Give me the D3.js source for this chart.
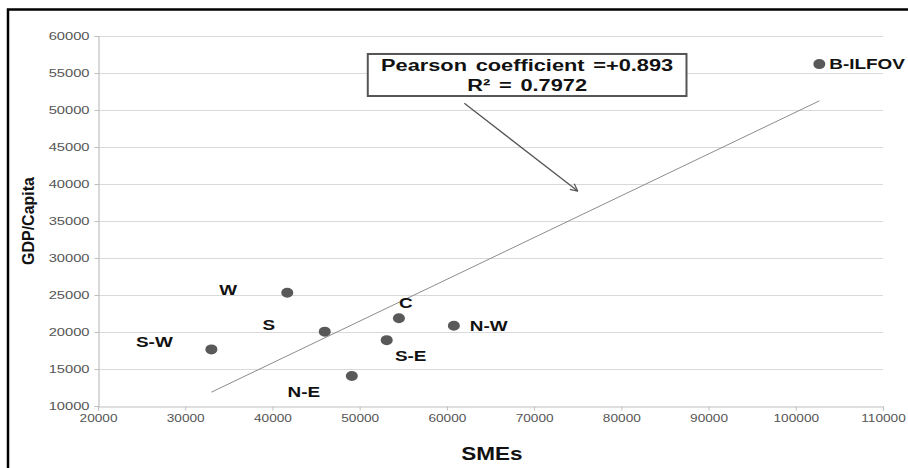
<!DOCTYPE html>
<html>
<head>
<meta charset="utf-8">
<script src="https://cdn.jsdelivr.net/npm/d3@7"></script>
<style>
  body { margin: 0; background: #fff; }
  svg { display: block; }
</style>
</head>
<body>
<svg id="chart"></svg>
<script>
// regions (labels) with SMEs (x) and GDP/capita (y)
const regions = ['W', 'S', 'S-W', 'C', 'N-W', 'S-E', 'N-E', 'B-ILFOV'];
const smes = [41700, 46000, 33000, 54500, 60800, 53100, 49100, 102700];
const gdpCapita = [25300, 20050, 17650, 21850, 20850, 18900, 14050, 56200];

const xTicks = [20000, 30000, 40000, 50000, 60000, 70000, 80000, 90000, 100000, 110000];
const yTicks = [10000, 15000, 20000, 25000, 30000, 35000, 40000, 45000, 50000, 55000, 60000];

const annotationLines = ['Pearson coefficient =+0.893', 'R\u00b2 = 0.7972'];

// label placement around each point (pixels, as in the original)
const labelPos = {
  'W':       { dx: -59, dy: 2,  anchor: 'middle' },
  'S':       { dx: -56, dy: -2, anchor: 'middle' },
  'S-W':     { dx: -57, dy: -2, anchor: 'middle' },
  'C':       { dx: 7,   dy: -10, anchor: 'middle' },
  'N-W':     { dx: 16,  dy: 5,  anchor: 'start' },
  'S-E':     { dx: 24,  dy: 21, anchor: 'middle' },
  'N-E':     { dx: -48, dy: 21, anchor: 'middle' },
  'B-ILFOV': { dx: 10,  dy: 5,  anchor: 'start' }
};

const W = 908, H = 468;
const plot = { left: 98, right: 883, top: 36, bottom: 406 };
const font = '"Liberation Sans", Arial, sans-serif';

// the original picture is stretched sideways, so text is widened the same way
function widen(sel, k) {
  sel.each(function() {
    const len = this.getComputedTextLength();
    d3.select(this)
      .attr('textLength', len * k)
      .attr('lengthAdjust', 'spacingAndGlyphs');
  });
}

const svg = d3.select('#chart').attr('width', W).attr('height', H);

// frame of the original figure (left and top edges visible)
svg.append('path')
  .attr('d', `M8,${H} L8,9.5 L${W},9.5`)
  .attr('fill', 'none')
  .attr('stroke', '#000')
  .attr('stroke-width', 2.5);

const x = d3.scaleLinear().domain([20000, 110000]).range([plot.left, plot.right]);
const y = d3.scaleLinear().domain([10000, 60000]).range([plot.bottom, plot.top]);

// gridlines
svg.append('g')
  .selectAll('line')
  .data(yTicks.slice(1))
  .join('line')
    .attr('x1', plot.left).attr('x2', plot.right)
    .attr('y1', d => y(d) + 0.5).attr('y2', d => y(d) + 0.5)
    .attr('stroke', '#d9d9d9')
    .attr('stroke-width', 1.2);

const xAxis = svg.append('g')
  .attr('transform', `translate(0,${plot.bottom + 0.5})`)
  .call(d3.axisBottom(x).tickValues(xTicks).tickFormat(d3.format('d')).tickSize(4).tickPadding(4));

const yAxis = svg.append('g')
  .attr('transform', `translate(${plot.left + 0.5},0)`)
  .call(d3.axisLeft(y).tickValues(yTicks).tickFormat(d3.format('d')).tickSize(4).tickPadding(5));

[xAxis, yAxis].forEach(a => {
  a.select('.domain').attr('stroke', '#bfbfbf').attr('stroke-width', 1.2);
  a.selectAll('.tick line').attr('stroke', '#bfbfbf');
  a.selectAll('.tick text')
    .attr('fill', '#555')
    .style('font-family', font)
    .style('font-size', '10.5px');
});
widen(xAxis.selectAll('.tick text'), 1.3);
widen(yAxis.selectAll('.tick text'), 1.4);

// trend line, least squares fit of the points
const mx = d3.mean(smes), my = d3.mean(gdpCapita);
const sxy = d3.sum(smes, (v, i) => (v - mx) * (gdpCapita[i] - my));
const sxx = d3.sum(smes, v => (v - mx) * (v - mx));
const slope = sxy / sxx;
const icpt = my - slope * mx;
const xMin = d3.min(smes), xMax = d3.max(smes);

svg.append('line')
  .attr('x1', x(xMin)).attr('y1', y(icpt + slope * xMin))
  .attr('x2', x(xMax)).attr('y2', y(icpt + slope * xMax))
  .attr('stroke', '#8c8c8c')
  .attr('stroke-width', 1);

// points
const pts = regions.map((r, i) => ({ name: r, sx: smes[i], gy: gdpCapita[i] }));

svg.append('g')
  .selectAll('ellipse')
  .data(pts)
  .join('ellipse')
    .attr('cx', d => x(d.sx))
    .attr('cy', d => y(d.gy))
    .attr('rx', 6)
    .attr('ry', 5)
    .attr('fill', '#595959');

const labels = svg.append('g')
  .selectAll('text')
  .data(pts)
  .join('text')
    .attr('x', d => x(d.sx) + labelPos[d.name].dx)
    .attr('y', d => y(d.gy) + labelPos[d.name].dy)
    .attr('text-anchor', d => labelPos[d.name].anchor)
    .style('font-family', font)
    .style('font-weight', 'bold')
    .style('font-size', '14px')
    .attr('fill', '#111')
    .text(d => d.name);
widen(labels, 1.35);

// annotation box and arrow (in data units)
const box = { x0: 50930, x1: 87470, y0: 57570, y1: 51890 };
const arrow = { fromX: 62000, fromY: 50900, toX: 75000, toY: 39050 };

svg.append('defs').append('marker')
  .attr('id', 'head')
  .attr('viewBox', '0 0 10 10')
  .attr('refX', 9).attr('refY', 5)
  .attr('markerWidth', 9).attr('markerHeight', 9)
  .attr('markerUnits', 'userSpaceOnUse')
  .attr('orient', 'auto')
  .append('path')
    .attr('d', 'M1,1 L9,5 L1,9')
    .attr('fill', 'none')
    .attr('stroke', '#555')
    .attr('stroke-width', 1.4);

svg.append('line')
  .attr('x1', x(arrow.fromX)).attr('y1', y(arrow.fromY))
  .attr('x2', x(arrow.toX)).attr('y2', y(arrow.toY))
  .attr('stroke', '#555')
  .attr('stroke-width', 1.3)
  .attr('marker-end', 'url(#head)');

svg.append('rect')
  .attr('x', x(box.x0)).attr('y', y(box.y0))
  .attr('width', x(box.x1) - x(box.x0))
  .attr('height', y(box.y1) - y(box.y0))
  .attr('fill', '#fff')
  .attr('stroke', '#555')
  .attr('stroke-width', 2);

const cx = (x(box.x0) + x(box.x1)) / 2;
const note = svg.append('g')
  .selectAll('text')
  .data(annotationLines)
  .join('text')
    .attr('x', cx)
    .attr('y', (d, i) => y(box.y0) + 17.5 + i * 20)
    .attr('text-anchor', 'middle')
    .style('font-family', font)
    .style('font-weight', 'bold')
    .style('font-size', '16px')
    .style('word-spacing', '2px')
    .attr('fill', '#111')
    .text(d => d);
widen(note, 1.36);

// axis titles
svg.append('text')
  .attr('transform', `translate(34,221) rotate(-90)`)
  .attr('text-anchor', 'middle')
  .style('font-family', font)
  .style('font-weight', 'bold')
  .style('font-size', '16px')
  .attr('fill', '#111')
  .text('GDP/Capita');

const xTitle = svg.append('text')
  .attr('x', 492).attr('y', 460)
  .attr('text-anchor', 'middle')
  .style('font-family', font)
  .style('font-weight', 'bold')
  .style('font-size', '18px')
  .attr('fill', '#111')
  .text('SMEs');
widen(xTitle, 1.25);
</script>
</body>
</html>
